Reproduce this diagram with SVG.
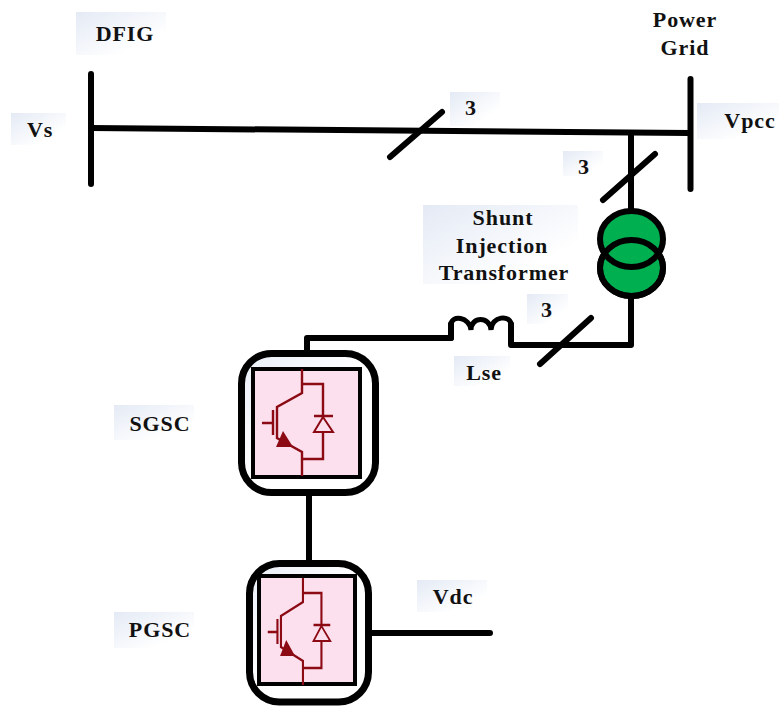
<svg xmlns="http://www.w3.org/2000/svg" xmlns:xlink="http://www.w3.org/1999/xlink" width="779" height="706" viewBox="0 0 779 706">
<style>
.w{fill:none;stroke:#000;stroke-width:6;stroke-linecap:round;stroke-linejoin:round}
.t{font-family:"Liberation Serif","Times New Roman",serif;font-weight:700;font-size:22px;fill:#111;text-anchor:middle;letter-spacing:.9px}
.b{fill:url(#lg)}
.m{fill:#fff;stroke:#000;stroke-width:7}
.p{fill:#fde0ee;stroke:#000;stroke-width:4}
.r{fill:none;stroke:#8b0a14;stroke-width:2.4}
</style>
<defs>
<linearGradient id="lg" x1="0" y1="0" x2="1" y2="1"><stop offset="0" stop-color="#e4eaf5"/><stop offset=".75" stop-color="#fff"/></linearGradient>
<linearGradient id="lm" x1="0" y1="0" x2="1" y2="1"><stop offset="0" stop-color="#e9eef7"/><stop offset=".5" stop-color="#fff"/></linearGradient>
<g id="igbt">
<path class="r" d="M302 369V393L277 407V438L302 452V476"/>
<path class="r" d="M273 410V435M262 423H273"/>
<path d="M276 447L283 431L293 447Z" fill="#8b0a14"/>
<path class="r" d="M302 384H323V416M314 416H333M323 432V459H302"/>
<path d="M323 417L314 432H333Z" fill="#fde0ee" stroke="#8b0a14" stroke-width="2"/>
</g>
</defs>
<rect width="779" height="706" fill="#fff"/>
<g id="label-dfig"><rect class="b" x="76" y="12" width="90" height="43"/><text class="t" x="125" y="41">DFIG</text></g>
<g id="label-vs"><rect class="b" x="11" y="113" width="55" height="32"/><text class="t" x="40" y="137">Vs</text></g>
<g id="label-grid"><text class="t" x="685" y="27">Power</text><text class="t" x="685" y="55">Grid</text></g>
<g id="label-vpcc"><rect class="b" x="697" y="103" width="82" height="36"/><text class="t" x="750" y="128">Vpcc</text></g>
<g id="label-3a"><rect class="b" x="450" y="92" width="50" height="34"/><text class="t" x="471" y="115">3</text></g>
<g id="label-3b"><rect class="b" x="563" y="151" width="40" height="25"/><text class="t" x="584" y="174">3</text></g>
<g id="label-shunt"><rect class="b" x="423" y="205" width="155" height="79"/><text class="t" x="503" y="225">Shunt</text><text class="t" x="502" y="253">Injection</text><text class="t" x="504" y="280">Transformer</text></g>
<g id="label-3c"><rect class="b" x="527" y="294" width="41" height="30"/><text class="t" x="547" y="317">3</text></g>
<g id="label-lse"><rect class="b" x="454" y="356" width="56" height="30"/><text class="t" x="484" y="380">Lse</text></g>
<g id="label-sgsc"><rect class="b" x="114" y="405" width="80" height="35"/><text class="t" x="160" y="431">SGSC</text></g>
<g id="label-pgsc"><rect class="b" x="114" y="612" width="80" height="36"/><text class="t" x="160" y="637">PGSC</text></g>
<g id="label-vdc"><rect class="b" x="417" y="580" width="70" height="32"/><text class="t" x="453" y="604">Vdc</text></g>
<g id="connectors">
<path class="w" d="M91 74V184"/>
<path class="w" d="M690.5 79V189"/>
<path class="w" d="M91 128L690 133"/>
<path class="w" d="M390 157L442 112"/>
<path class="w" d="M631 133V213"/>
<path class="w" d="M603 200L655 154"/>
<path class="w" d="M631 296V345H511V324"/>
<path class="w" d="M540 364L591 318"/>
<path class="w" d="M451 338H307V352"/>
<path class="w" d="M451 338V324"/>
<path d="M451 325C451 314 470 317 471 330C471 316 490 316 491 330C491 316 511 314 511 325" fill="none" stroke="#000" stroke-width="5" stroke-linecap="round"/>
<path class="w" d="M309 496V560"/>
<path class="w" d="M372 633H490"/>
</g>
<g id="transformer">
<ellipse cx="631.5" cy="268" rx="31.5" ry="28" fill="#00b050" stroke="#000" stroke-width="6"/>
<ellipse cx="631.5" cy="239" rx="31.5" ry="28" fill="#00b050" stroke="#000" stroke-width="6"/>
<ellipse cx="631.5" cy="268" rx="31.5" ry="28" fill="none" stroke="#000" stroke-width="6"/>
</g>
<g id="sgsc">
<rect x="241.5" y="353.5" width="134" height="139" rx="30" fill="url(#lm)" stroke="#000" stroke-width="7"/>
<rect class="p" x="253" y="369" width="107" height="108"/>
<use xlink:href="#igbt" href="#igbt"/>
</g>
<g id="pgsc">
<rect x="249.5" y="563.5" width="119" height="138.500" rx="30" fill="url(#lm)" stroke="#000" stroke-width="7"/>
<rect class="p" x="259" y="576" width="96" height="108"/>
<use xlink:href="#igbt" href="#igbt" transform="translate(37.2 209) scale(.88 1)"/>
</g>
</svg>
